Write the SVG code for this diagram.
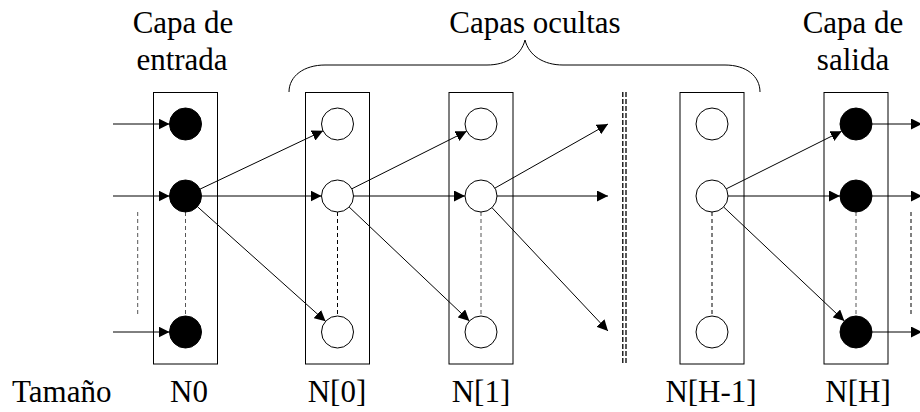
<svg xmlns="http://www.w3.org/2000/svg" width="920" height="412" viewBox="0 0 920 412">
<style>
.box{fill:#fff;stroke:#000;stroke-width:1}
.on{fill:#000;stroke:#000;stroke-width:1}
.off{fill:#fff;stroke:#000;stroke-width:1}
.ln{stroke:#000;stroke-width:1;fill:none}
.dash{stroke:#000;stroke-width:1;stroke-dasharray:4,3;fill:none}
.gdash{stroke:#555;stroke-width:1;stroke-dasharray:4,3;fill:none}
.t{font-family:"Liberation Serif","Times New Roman",serif;font-size:31px;fill:#000}
</style>
<defs>
<marker id="ah" markerUnits="userSpaceOnUse" markerWidth="12" markerHeight="11" refX="11" refY="5.5" orient="auto">
<path d="M0,0 L11,5.5 L0,11 z" fill="#000"/>
</marker>
</defs>
<g id="labels">
<text class="t" x="183" y="33" text-anchor="middle">Capa de</text>
<text class="t" x="182" y="70" text-anchor="middle">entrada</text>
<text class="t" x="535" y="33" text-anchor="middle">Capas ocultas</text>
<text class="t" x="853" y="33" text-anchor="middle">Capa de</text>
<text class="t" x="853" y="70" text-anchor="middle">salida</text>
<text class="t" x="12" y="402">Tamaño</text>
<text class="t" x="189" y="402" text-anchor="middle">N0</text>
<text class="t" x="337" y="402" text-anchor="middle">N[0]</text>
<text class="t" x="481" y="402" text-anchor="middle">N[1]</text>
<text class="t" x="711" y="402" text-anchor="middle">N[H-1]</text>
<text class="t" x="858" y="402" text-anchor="middle">N[H]</text>
</g>
<g id="brace">
<path class="ln" d="M289,92 C289,76 304,65 325,65 L487,65 C506,65 521,56 525,40 C529,56 544,65 563,65 L725,65 C746,65 760,76 760,92"/>
</g>
<g id="layer-N0">
<rect class="box" x="153.5" y="92.5" width="64" height="271.5"/>
<line class="gdash" x1="185.5" y1="212" x2="185.5" y2="316"/>
<circle class="on" cx="185.5" cy="124" r="16"/>
<circle class="on" cx="185.5" cy="196" r="16"/>
<circle class="on" cx="185.5" cy="332" r="16"/>
</g>
<g id="layer-N0h">
<rect class="box" x="305.5" y="92.5" width="64" height="271.5"/>
<line class="dash" x1="337.5" y1="212" x2="337.5" y2="316"/>
<circle class="off" cx="337.5" cy="124" r="16"/>
<circle class="off" cx="337.5" cy="196" r="16"/>
<circle class="off" cx="337.5" cy="332" r="16"/>
</g>
<g id="layer-N1">
<rect class="box" x="449" y="92.5" width="64" height="271.5"/>
<line class="gdash" x1="481" y1="212" x2="481" y2="316"/>
<circle class="off" cx="481" cy="124" r="16"/>
<circle class="off" cx="481" cy="196" r="16"/>
<circle class="off" cx="481" cy="332" r="16"/>
</g>
<g id="layer-NH-1">
<rect class="box" x="680" y="92.5" width="64" height="271.5"/>
<line class="dash" x1="712" y1="212" x2="712" y2="316"/>
<circle class="off" cx="712" cy="124" r="16"/>
<circle class="off" cx="712" cy="196" r="16"/>
<circle class="off" cx="712" cy="332" r="16"/>
</g>
<g id="layer-NH">
<rect class="box" x="824" y="92.5" width="64" height="271.5"/>
<line class="gdash" x1="856" y1="212" x2="856" y2="316"/>
<circle class="on" cx="856" cy="124" r="16"/>
<circle class="on" cx="856" cy="196" r="16"/>
<circle class="on" cx="856" cy="332" r="16"/>
</g>
<g id="separators">
<line class="gdash" x1="137.7" y1="212" x2="137.7" y2="314"/>
<line class="dash" x1="911" y1="212" x2="911" y2="314"/>
<line stroke="#000" stroke-width="1.3" stroke-dasharray="5,2" x1="622.8" y1="92" x2="622.8" y2="364"/>
<line stroke="#000" stroke-width="1.3" stroke-dasharray="5,2" x1="626" y1="92" x2="626" y2="364"/>
</g>
<g id="connectors">
<line class="ln" marker-end="url(#ah)" x1="113" y1="124" x2="169.5" y2="124"/>
<line class="ln" marker-end="url(#ah)" x1="113" y1="196" x2="169.5" y2="196"/>
<line class="ln" marker-end="url(#ah)" x1="113" y1="332" x2="169.5" y2="332"/>
<line class="ln" marker-end="url(#ah)" x1="199.96" y1="189.15" x2="323.04" y2="130.85"/>
<line class="ln" marker-end="url(#ah)" x1="201.5" y1="196" x2="321.5" y2="196"/>
<line class="ln" marker-end="url(#ah)" x1="197.42" y1="206.67" x2="325.58" y2="321.33"/>
<line class="ln" marker-end="url(#ah)" x1="351.8" y1="188.82" x2="466.7" y2="131.18"/>
<line class="ln" marker-end="url(#ah)" x1="353.5" y1="196" x2="465" y2="196"/>
<line class="ln" marker-end="url(#ah)" x1="349.11" y1="207.01" x2="469.39" y2="320.99"/>
<line class="ln" marker-end="url(#ah)" x1="494.92" y1="188.11" x2="608" y2="124"/>
<line class="ln" marker-end="url(#ah)" x1="497" y1="196" x2="608" y2="196"/>
<line class="ln" marker-end="url(#ah)" x1="491.96" y1="207.65" x2="608" y2="331"/>
<line class="ln" marker-end="url(#ah)" x1="726.31" y1="188.84" x2="841.69" y2="131.16"/>
<line class="ln" marker-end="url(#ah)" x1="728" y1="196" x2="840" y2="196"/>
<line class="ln" marker-end="url(#ah)" x1="723.63" y1="206.99" x2="844.37" y2="321.01"/>
<line class="ln" marker-end="url(#ah)" x1="872" y1="124" x2="922" y2="124"/>
<line class="ln" marker-end="url(#ah)" x1="872" y1="196" x2="922" y2="196"/>
<line class="ln" marker-end="url(#ah)" x1="872" y1="332" x2="922" y2="332"/>
</g>
</svg>
